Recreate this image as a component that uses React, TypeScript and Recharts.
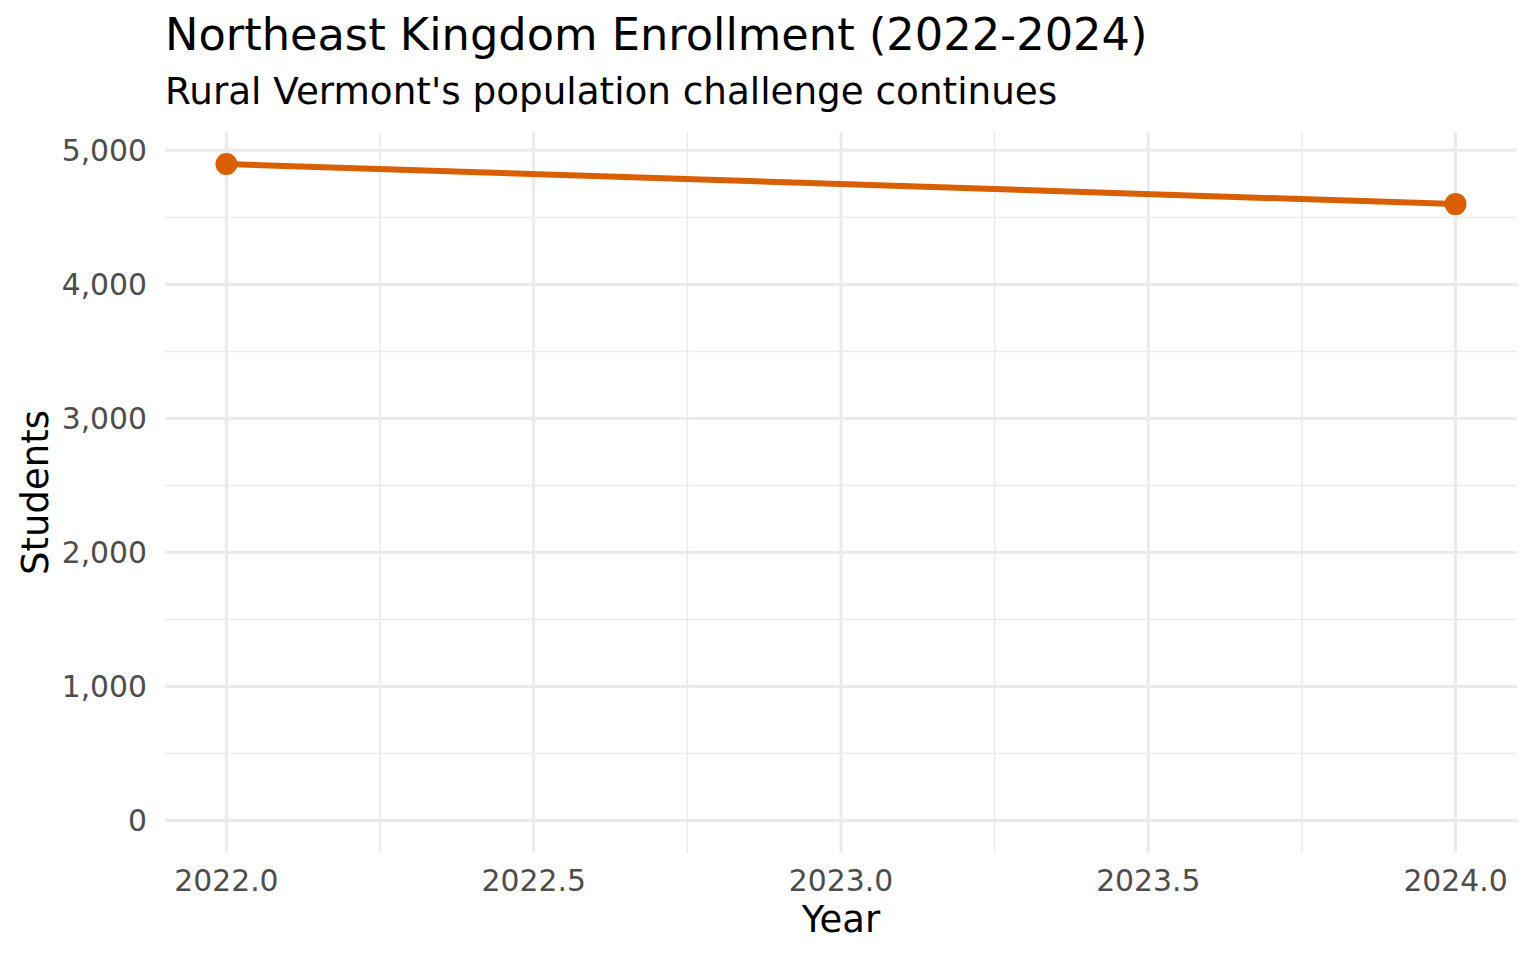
import React from 'react';
import { CartesianGrid, Label, Line, LineChart, XAxis, YAxis } from 'recharts';

const years = [2022, 2024];
const students = [4898, 4599];

const xTicks = [2022, 2022.5, 2023, 2023.5, 2024];
const xMinor = [2022.25, 2022.75, 2023.25, 2023.75];
const yTicks = [0, 1000, 2000, 3000, 4000, 5000];
const yMinor = [500, 1500, 2500, 3500, 4500];

const data = years.map((year, i) => ({ year, students: students[i] }));

const font = '"DejaVu Sans", sans-serif';
const orange = '#d95f02';

export default function App() {
  return (
    <div style={{ position: 'fixed', left: 0, top: 0, width: 1536, height: 960, background: '#fff', fontFamily: font }}>
      <div style={{ position: 'absolute', left: 165, top: 9, fontSize: 44.7, color: '#000', whiteSpace: 'nowrap' }}>
        Northeast Kingdom Enrollment (2022-2024)
      </div>
      <div style={{ position: 'absolute', left: 165, top: 69, fontSize: 37.3, color: '#000', whiteSpace: 'nowrap' }}>
        Rural Vermont's population challenge continues
      </div>
      <LineChart
        width={1536}
        height={960}
        data={data}
        margin={{ top: 132, right: 19, bottom: 0, left: 65 }}
        style={{ position: 'absolute', left: 0, top: 0 }}
      >
        <CartesianGrid stroke="#ebebeb" strokeWidth={1.5} horizontalValues={yMinor} verticalValues={xMinor} />
        <CartesianGrid stroke="#ebebeb" strokeWidth={3} horizontalValues={yTicks} verticalValues={xTicks} />
        <XAxis
          dataKey="year"
          type="number"
          domain={[2021.9, 2024.1]}
          ticks={xTicks}
          allowDataOverflow
          tickFormatter={(v: number) => v.toFixed(1)}
          axisLine={false}
          tickLine={false}
          tickSize={0}
          tickMargin={17}
          height={107}
          tick={{ fontSize: 29.8, fill: '#4d4d4d', fontFamily: font }}
        >
          <Label value="Year" position="insideBottom" offset={28} style={{ fontSize: 37, fill: '#000', fontFamily: font }} />
        </XAxis>
        <YAxis
          type="number"
          domain={[-242, 5137]}
          ticks={yTicks}
          allowDataOverflow
          tickFormatter={(v: number) => v.toLocaleString('en-US')}
          axisLine={false}
          tickLine={false}
          tickSize={0}
          tickMargin={18}
          width={100}
          tick={{ fontSize: 29.8, fill: '#4d4d4d', fontFamily: font }}
        >
          <Label
            value="Students"
            angle={-90}
            position="insideLeft"
            offset={-30}
            style={{ fontSize: 37, fill: '#000', fontFamily: font, textAnchor: 'middle' }}
          />
        </YAxis>
        <Line
          dataKey="students"
          stroke={orange}
          strokeWidth={6}
          dot={{ r: 11, fill: orange, stroke: 'none' }}
          isAnimationActive={false}
        />
      </LineChart>
    </div>
  );
}
